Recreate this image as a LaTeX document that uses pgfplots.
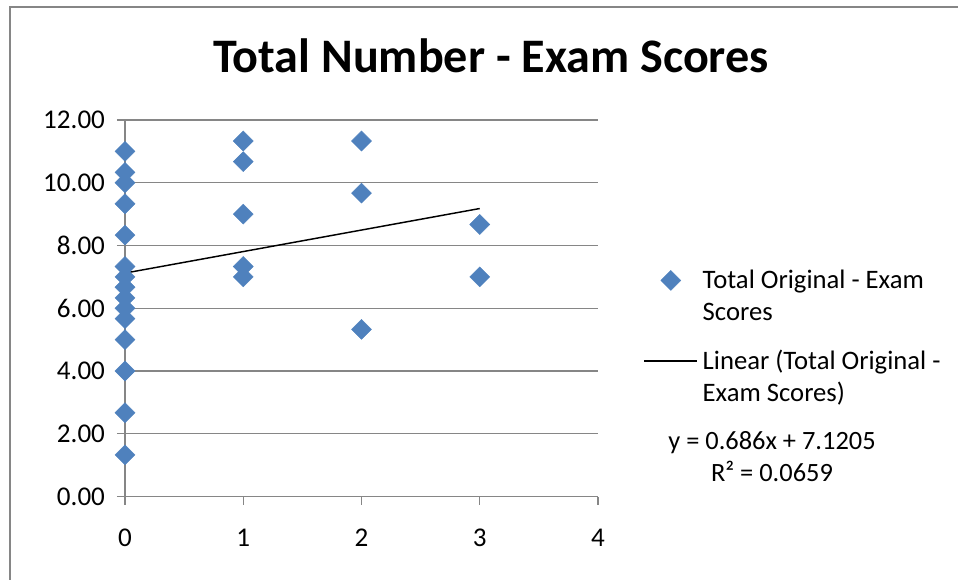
\documentclass[border=0pt]{standalone}
\usepackage{pgfplots}
\pgfplotsset{compat=1.18}
\usepackage{fontspec}
\setmainfont{Carlito}
\definecolor{mkblue}{HTML}{4F81BD}
\definecolor{gridgray}{HTML}{868686}
\pgfplotsset{
  mklegend/.style={legend image code/.code={\path[draw=none,fill=none] (0pt,0pt) -- (39.75pt,0pt); \draw[##1, only marks] plot coordinates {(19.9pt,0pt)};}},
  lnlegend/.style={legend image code/.code={\draw[##1] (0pt,0pt) -- (39.75pt,0pt);}},
}
\begin{document}
\begin{tikzpicture}[x=0.75pt,y=0.75pt]
\useasboundingbox (0,0) rectangle (958,580);
\draw[gridgray, line width=1.5pt] (9.5,-20) rectangle (990,572.5);
\node[font=\fontsize{36.1}{40}\selectfont\bfseries, anchor=base] at (491,507.3) {Total Number - Exam Scores};
\begin{axis}[
  at={(93.75pt,62.6pt)}, anchor=south west,
  scale only axis, width=354.75pt, height=282.4pt,
  xmin=0, xmax=4, ymin=0, ymax=12,
  xtick={0,1,2,3,4}, ytick={0,2,4,6,8,10,12},
  axis lines*=left,
  ymajorgrids,
  major grid style={gridgray, line width=0.9pt},
  axis line style={gridgray, line width=0.9pt},
  tick style={gridgray, line width=0.9pt},
  tick align=outside, major tick length=6pt,
  clip=false,
  /pgf/number format/assume math mode=true,
  ticklabel style={font=\fontsize{20.3}{24}\selectfont, text=black},
  y tick label style={xshift=-5.5pt, /pgf/number format/.cd, fixed, fixed zerofill, precision=2},
  xticklabel style={yshift=-15pt},
  legend style={at={(axis description cs:1.0958,0.609)}, anchor=north west,
    draw=none, fill=none, inner sep=0pt, row sep=40.75pt, column sep=1.5pt,
    font=\fontsize{20}{24}\selectfont, cells={anchor=west}},
]
\addplot[only marks, mark=square*, mark size=5.3pt,
  mark options={rotate=45, fill=mkblue, draw=mkblue, line width=0.3pt},
  mklegend]
coordinates {
(0,11.00) (0,10.33) (0,10.00) (0,9.33) (0,8.33) (0,7.33) (0,7.00) (0,6.67)
(0,6.33) (0,6.00) (0,5.67) (0,5.00) (0,4.00) (0,2.67) (0,1.33)
(1,11.33) (1,10.67) (1,9.00) (1,7.33) (1,7.00)
(2,11.33) (2,9.67) (2,5.33)
(3,8.67) (3,7.00)
};
\addlegendentry{\raisebox{0pt}[\height][0pt]{\parbox[t]{200pt}{Total Original - Exam\\Scores}}}
\addplot[black, line width=1.1pt, lnlegend]
coordinates {(0,7.1205) (3,9.1785)};
\addlegendentry{\raisebox{0pt}[\height][0pt]{\parbox[t]{200pt}{Linear (Total Original -\\Exam Scores)}}}
\end{axis}
\node[anchor=base, font=\fontsize{19.8}{24}\selectfont] at (772,130) {y = 0.686x + 7.1205};
\node[anchor=base, font=\fontsize{19.8}{24}\selectfont] at (772,98) {R² = 0.0659};
\end{tikzpicture}
\end{document}
